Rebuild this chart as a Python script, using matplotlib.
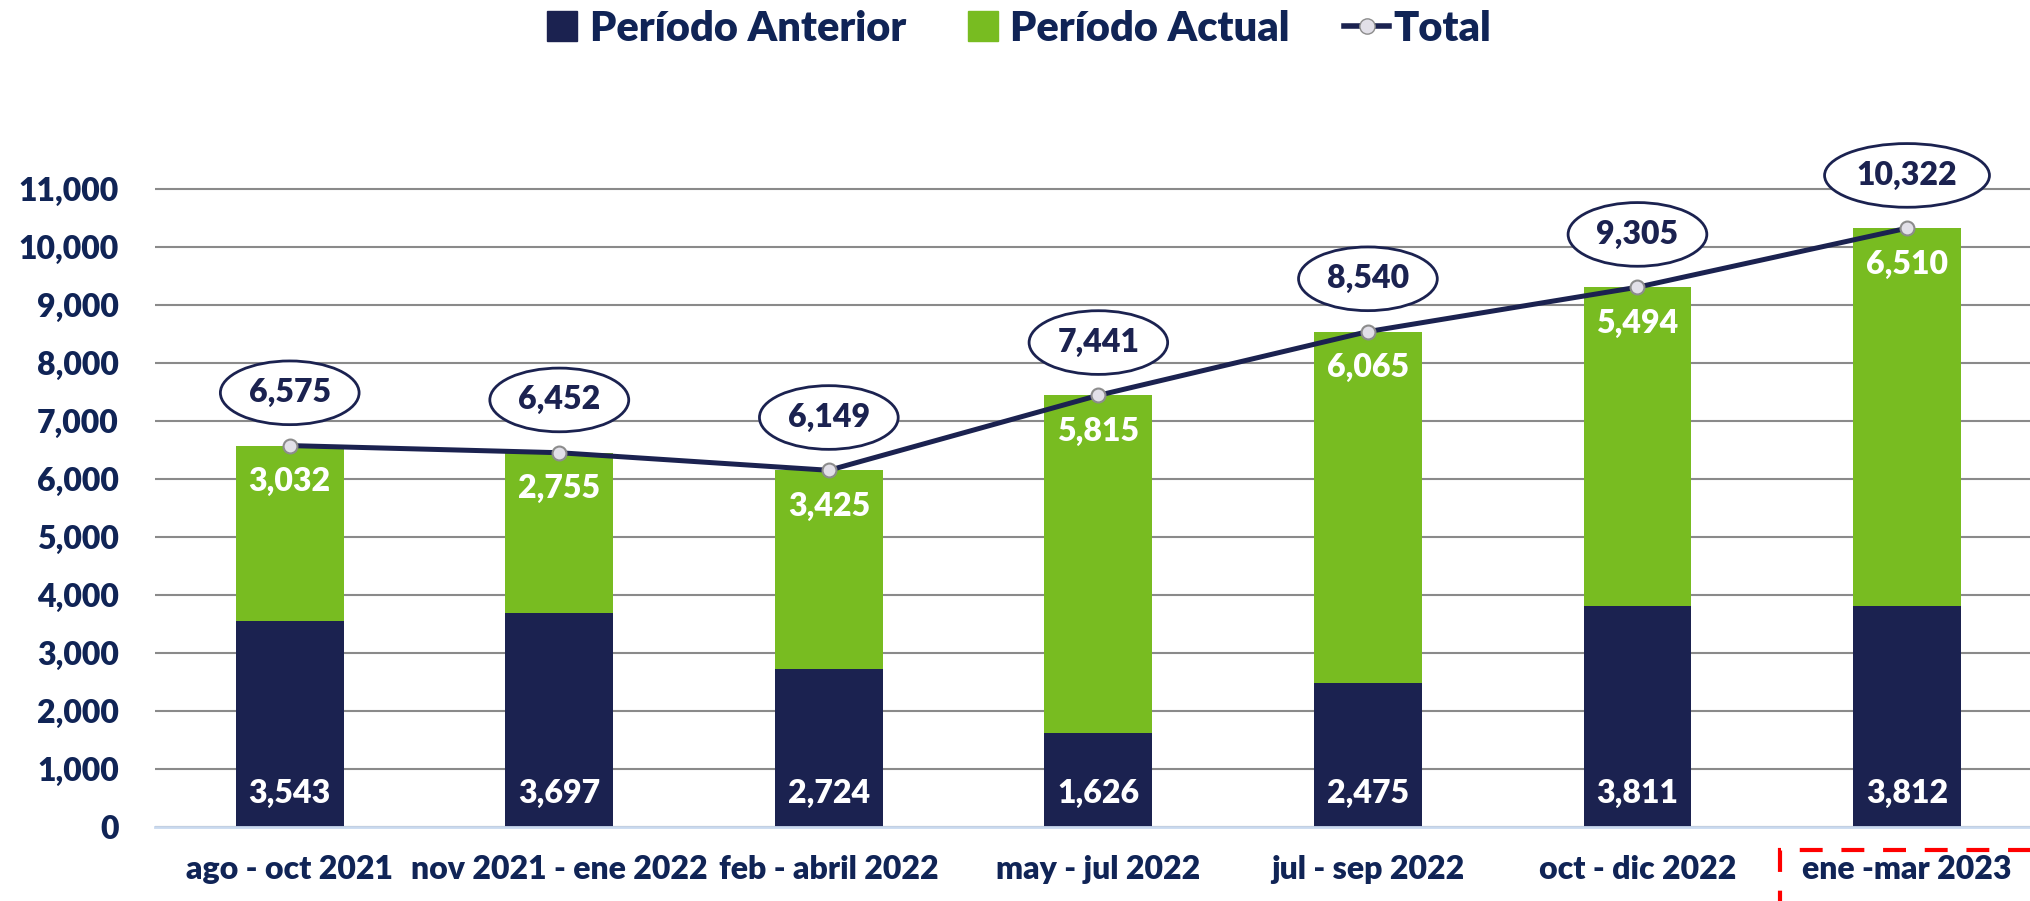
import matplotlib.pyplot as plt
import matplotlib.patches as mpatches
from matplotlib.lines import Line2D
from matplotlib.ticker import FuncFormatter

plt.rcParams['font.family'] = ['Lato', 'DejaVu Sans']
plt.rcParams['font.weight'] = 'heavy'

periodos = ["ago - oct 2021", "nov 2021 - ene 2022", "feb - abril 2022", "may - jul 2022",
            "jul - sep 2022", "oct - dic 2022", "ene -mar 2023"]
anterior = [3543, 3697, 2724, 1626, 2475, 3811, 3812]
actual = [3032, 2755, 3425, 5815, 6065, 5494, 6510]
total = [6575, 6452, 6149, 7441, 8540, 9305, 10322]

navy = "#1b2250"
green = "#78bc21"
text_navy = "#102456"
w = 'heavy'

fig = plt.figure(figsize=(20.31, 9.01), dpi=100)
ax = fig.add_axes([0.0763, 0.0821, 0.9237, 0.792])

x = list(range(len(periodos)))
ax.bar(x, anterior, width=0.4, color=navy, zorder=2)
ax.bar(x, actual, width=0.4, bottom=anterior, color=green, zorder=2)
ax.plot(x, total, color=navy, lw=3.6, marker='o', markersize=10,
        markerfacecolor="#e2e0e8", markeredgecolor="#8c8c8c", markeredgewidth=1.5, zorder=4)

for xi, a, c, t in zip(x, anterior, actual, total):
    ax.annotate(f"{a:,}", (xi, 0), xytext=(0, 24), textcoords='offset points',
                ha='center', va='center', color='white', fontsize=23, fontweight=w, zorder=5)
    ax.annotate(f"{c:,}", (xi, t), xytext=(0, -26), textcoords='offset points',
                ha='center', va='center', color='white', fontsize=23, fontweight=w, zorder=5)
    ax.annotate(f"{t:,}", (xi, t), xytext=(0, 38), textcoords='offset points',
                ha='center', va='center', color=navy, fontsize=23, fontweight=w, zorder=6,
                bbox=dict(boxstyle='ellipse,pad=0.25', fc='white', ec=navy, lw=2))

ax.set_xlim(-0.5, 6.46)
ax.set_ylim(0, 12300)
ax.set_yticks(range(0, 11001, 1000))
ax.yaxis.set_major_formatter(FuncFormatter(lambda v, p: f"{int(v):,}"))
ax.set_xticks(x)
ax.set_xticklabels(periodos)
ax.tick_params(axis='both', length=0, labelsize=23, labelcolor=text_navy)
ax.tick_params(axis='y', pad=26)
ax.tick_params(axis='x', pad=20)
for lab in ax.get_xticklabels() + ax.get_yticklabels():
    lab.set_fontweight(w)

ax.grid(axis='y', color="#8a8a8a", lw=1.5, zorder=0)
ax.set_axisbelow(True)
for s in ['top', 'right', 'left']:
    ax.spines[s].set_visible(False)
ax.spines['bottom'].set_color("#c9d9ef")
ax.spines['bottom'].set_linewidth(2)
ax.spines['bottom'].set_zorder(3)

handles = [
    Line2D([], [], ls='none', marker='s', markersize=21, color=navy),
    Line2D([], [], ls='none', marker='s', markersize=21, color=green),
    Line2D([], [], color=navy, lw=4, marker='o', markersize=11,
           markerfacecolor="#e2e0e8", markeredgecolor="#8c8c8c"),
]
leg = fig.legend(handles, ["Período Anterior", "Período Actual", "Total"], ncol=3,
                 loc='center', bbox_to_anchor=(0.5, 0.968), frameon=False,
                 handlelength=1.1, handletextpad=0.1, columnspacing=1.3,
                 prop={'size': 30, 'weight': w})
for t in leg.get_texts():
    t.set_color(text_navy)

box = mpatches.Rectangle((0.8764, -0.05), 0.2, 0.1066, transform=fig.transFigure,
                         fill=False, ec="#ff0000", lw=3, ls=(0, (5.5, 4.5)), clip_on=False)
fig.patches.append(box)

fig.savefig("out.png", dpi=100)
